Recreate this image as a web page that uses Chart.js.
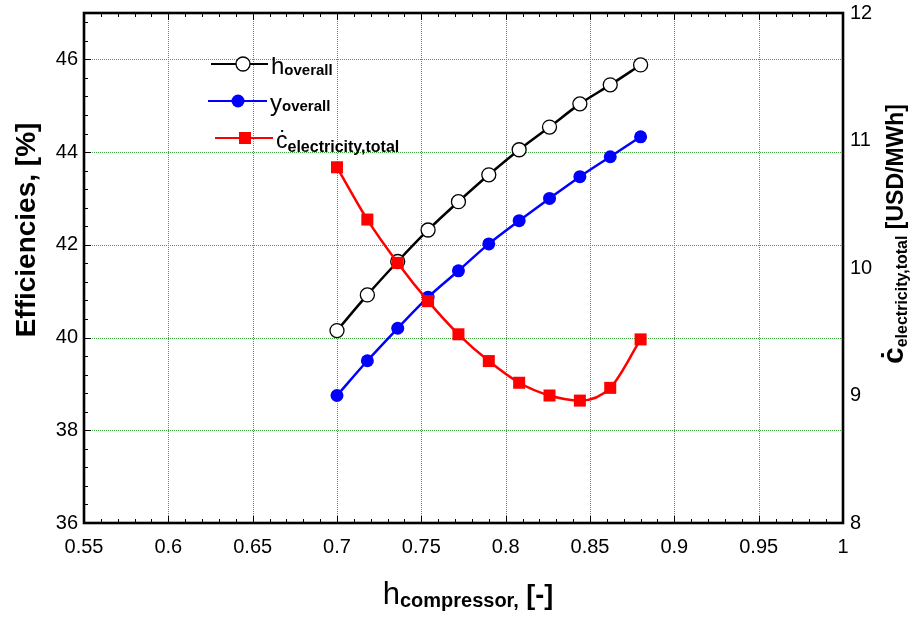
<!DOCTYPE html>
<html>
<head>
<meta charset="utf-8">
<script src="https://cdn.jsdelivr.net/npm/chart.js@4.4.1/dist/chart.umd.min.js"></script>
<style>
  html, body { margin: 0; padding: 0; background: #ffffff; }
  #wrap { width: 920px; height: 617px; }
</style>
</head>
<body>
<div id="wrap"><canvas id="chart" width="920" height="617"></canvas></div>
<script>
// Compressor isentropic efficiency (x axis)
const compressorEff = [0.700, 0.718, 0.736, 0.754, 0.772, 0.790, 0.808, 0.826, 0.844, 0.862, 0.880];
// Overall energy efficiency, %
const overallEnergyEff = [40.15, 40.92, 41.64, 42.32, 42.93, 43.51, 44.05, 44.54, 45.04, 45.45, 45.88];
// Overall exergy efficiency, %
const overallExergyEff = [38.75, 39.50, 40.20, 40.87, 41.44, 42.02, 42.52, 43.00, 43.47, 43.90, 44.33];
// Total electricity cost, USD/MWh (right axis)
const electricityCost = [10.79, 10.38, 10.04, 9.74, 9.48, 9.27, 9.10, 9.00, 8.96, 9.06, 9.44];

// Tick values
const xTicks = [0.55, 0.6, 0.65, 0.7, 0.75, 0.8, 0.85, 0.9, 0.95, 1];
const leftTicks = [36, 38, 40, 42, 44, 46];
const rightTicks = [8, 9, 10, 11, 12];

const FONT = "'Liberation Sans', Arial, Helvetica, sans-serif";
const GRID_COLOR = '#3aa83a';

const toPoints = (ys) => compressorEff.map((x, i) => ({ x: x, y: ys[i] }));

// Draws a run of text pieces (main letters and subscripts) from a start point
function richWidth(ctx, parts) {
  let w = 0;
  for (const p of parts) { ctx.font = p.font; w += ctx.measureText(p.t).width; }
  return w;
}
function drawRich(ctx, parts, x, y) {
  ctx.textBaseline = 'alphabetic';
  ctx.textAlign = 'left';
  let cx = x;
  for (const p of parts) {
    ctx.font = p.font;
    ctx.fillText(p.t, cx, y + (p.dy || 0));
    cx += ctx.measureText(p.t).width;
  }
}

const decorPlugin = {
  id: 'decor',
  beforeDatasetsDraw(chart) {
    const { ctx, chartArea: a, scales } = chart;
    ctx.save();
    ctx.strokeStyle = GRID_COLOR;
    ctx.lineWidth = 1;
    ctx.setLineDash([1, 1]);
    xTicks.forEach(v => {
      if (v <= 0.55 || v >= 1) return;
      const px = Math.round(scales.x.getPixelForValue(v)) + 0.5;
      ctx.beginPath(); ctx.moveTo(px, a.top); ctx.lineTo(px, a.bottom); ctx.stroke();
    });
    leftTicks.forEach(v => {
      if (v <= 36) return;
      const py = Math.round(scales.y.getPixelForValue(v)) + 0.5;
      ctx.beginPath(); ctx.moveTo(a.left, py); ctx.lineTo(a.right, py); ctx.stroke();
    });
    ctx.restore();
  },
  afterDraw(chart) {
    const { ctx, chartArea: a, scales } = chart;
    ctx.save();
    ctx.fillStyle = '#000';
    ctx.strokeStyle = '#000';

    // tick marks pointing into the plot
    ctx.lineWidth = 1;
    ctx.beginPath();
    for (let k = 0; k <= 45; k++) {
      const v = 0.55 + k * 0.01;
      const px = Math.round(scales.x.getPixelForValue(v)) + 0.5;
      const len = (k % 5 === 0) ? 7 : 4;
      ctx.moveTo(px, a.bottom); ctx.lineTo(px, a.bottom - len);
      ctx.moveTo(px, a.top); ctx.lineTo(px, a.top + len);
    }
    for (let k = 0; k <= 27; k++) {
      const v = 36 + k * 0.4;
      if (v > 47) break;
      const py = Math.round(scales.y.getPixelForValue(v)) + 0.5;
      const len = (k % 5 === 0) ? 7 : 4;
      ctx.moveTo(a.left, py); ctx.lineTo(a.left + len, py);
    }
    ctx.stroke();

    // plot frame
    ctx.lineWidth = 2.6;
    ctx.strokeRect(a.left, a.top, a.right - a.left, a.bottom - a.top);

    // legend
    const legendRows = [
      { y: 64, x0: 211, x1: 268, mx: 243, color: '#000', kind: 'open',
        text: [{ t: 'h', font: '24px ' + FONT }, { t: 'overall', font: 'bold 15px ' + FONT, dy: 1 }], tx: 271 },
      { y: 101, x0: 208, x1: 267, mx: 238, color: '#0000ff', kind: 'dot',
        text: [{ t: 'y', font: '24px ' + FONT }, { t: 'overall', font: 'bold 15px ' + FONT, dy: 0 }], tx: 270 },
      { y: 138, x0: 215, x1: 273, mx: 245, color: '#ff0000', kind: 'rect',
        text: [{ t: '\u010b', font: '23px ' + FONT }, { t: 'electricity,total', font: 'bold 16px ' + FONT, dy: 4 }], tx: 276 }
    ];
    legendRows.forEach(r => {
      ctx.strokeStyle = r.color;
      ctx.lineWidth = 2;
      ctx.beginPath(); ctx.moveTo(r.x0, r.y); ctx.lineTo(r.x1, r.y); ctx.stroke();
      if (r.kind === 'open') {
        ctx.beginPath(); ctx.arc(r.mx, r.y, 7, 0, Math.PI * 2);
        ctx.fillStyle = '#fff'; ctx.fill();
        ctx.lineWidth = 1.3; ctx.strokeStyle = '#000'; ctx.stroke();
      } else if (r.kind === 'dot') {
        ctx.beginPath(); ctx.arc(r.mx, r.y, 6.5, 0, Math.PI * 2);
        ctx.fillStyle = r.color; ctx.fill();
      } else {
        ctx.fillStyle = r.color; ctx.fillRect(r.mx - 6, r.y - 6, 12, 12);
      }
      ctx.fillStyle = '#000';
      drawRich(ctx, r.text, r.tx, r.y + 10);
    });

    // left axis title
    ctx.save();
    ctx.translate(35, 230);
    ctx.rotate(-Math.PI / 2);
    ctx.font = 'bold 28px ' + FONT;
    ctx.textAlign = 'center';
    ctx.textBaseline = 'alphabetic';
    ctx.fillText('Efficiencies, [%]', 0, 0);
    ctx.restore();

    // right axis title
    const rParts = [
      { t: '\u010b', font: 'bold 30px ' + FONT },
      { t: 'electricity,total', font: 'bold 16px ' + FONT, dy: 4 },
      { t: ' [USD/MWh]', font: 'bold 23px ' + FONT }
    ];
    ctx.save();
    ctx.translate(903, 234);
    ctx.rotate(-Math.PI / 2);
    const rw = richWidth(ctx, rParts);
    drawRich(ctx, rParts, -rw / 2, 0);
    ctx.restore();

    // bottom axis title
    const xParts = [
      { t: 'h', font: '31px ' + FONT },
      { t: 'compressor,', font: 'bold 20px ' + FONT, dy: 3 },
      { t: ' [-]', font: 'bold 27px ' + FONT }
    ];
    const xw = richWidth(ctx, xParts);
    drawRich(ctx, xParts, 468 - xw / 2, 604);

    ctx.restore();
  }
};

const tickFont = { family: FONT, size: 20 };
// keep the plot box fixed: no extra room reserved for overhanging labels
const noOverhang = s => { s.paddingTop = 0; s.paddingBottom = 0; };

new Chart(document.getElementById('chart'), {
  type: 'line',
  data: {
    datasets: [
      {
        label: 'electricity,total',
        data: toPoints(electricityCost),
        yAxisID: 'yR',
        borderColor: '#ff0000',
        backgroundColor: '#ff0000',
        borderWidth: 2.5,
        pointStyle: 'rect',
        pointRadius: 8.5,
        pointBorderWidth: 0,
        pointBackgroundColor: '#ff0000',
        cubicInterpolationMode: 'monotone',
        order: 0
      },
      {
        label: 'y overall',
        data: toPoints(overallExergyEff),
        yAxisID: 'y',
        borderColor: '#0000ff',
        backgroundColor: '#0000ff',
        borderWidth: 2.5,
        pointStyle: 'circle',
        pointRadius: 6.5,
        pointBorderWidth: 0,
        pointBackgroundColor: '#0000ff',
        cubicInterpolationMode: 'monotone',
        order: 1
      },
      {
        label: 'h overall',
        data: toPoints(overallEnergyEff),
        yAxisID: 'y',
        borderColor: '#000000',
        backgroundColor: '#ffffff',
        borderWidth: 2.5,
        pointStyle: 'circle',
        pointRadius: 7,
        pointBorderWidth: 1.3,
        pointBorderColor: '#000000',
        pointBackgroundColor: '#ffffff',
        cubicInterpolationMode: 'monotone',
        order: 2
      }
    ]
  },
  options: {
    responsive: false,
    animation: false,
    events: [],
    layout: { padding: { top: 13, left: 0, right: 0, bottom: 0 } },
    plugins: { legend: { display: false }, tooltip: { enabled: false } },
    scales: {
      x: {
        type: 'linear',
        position: 'bottom',
        min: 0.55,
        max: 1,
        afterBuildTicks: s => { s.ticks = xTicks.map(v => ({ value: v })); },
        afterFit: s => { s.height = 94; s.paddingLeft = 0; s.paddingRight = 0; },
        grid: { display: false, drawTicks: false },
        border: { display: false },
        ticks: {
          font: tickFont, color: '#000', padding: 12, maxRotation: 0, autoSkip: false,
          callback: v => String(+Number(v).toFixed(2))
        }
      },
      y: {
        type: 'linear',
        position: 'left',
        min: 36,
        max: 47,
        afterBuildTicks: s => { s.ticks = leftTicks.map(v => ({ value: v })); },
        afterFit: s => { s.width = 84; noOverhang(s); },
        grid: { display: false, drawTicks: false },
        border: { display: false },
        ticks: { font: tickFont, color: '#000', padding: 6, autoSkip: false }
      },
      yR: {
        type: 'linear',
        position: 'right',
        min: 8,
        max: 12,
        afterBuildTicks: s => { s.ticks = rightTicks.map(v => ({ value: v })); },
        afterFit: s => { s.width = 77; noOverhang(s); },
        grid: { display: false, drawTicks: false },
        border: { display: false },
        ticks: { font: tickFont, color: '#000', padding: 7, autoSkip: false }
      }
    }
  },
  plugins: [decorPlugin]
});
</script>
</body>
</html>
